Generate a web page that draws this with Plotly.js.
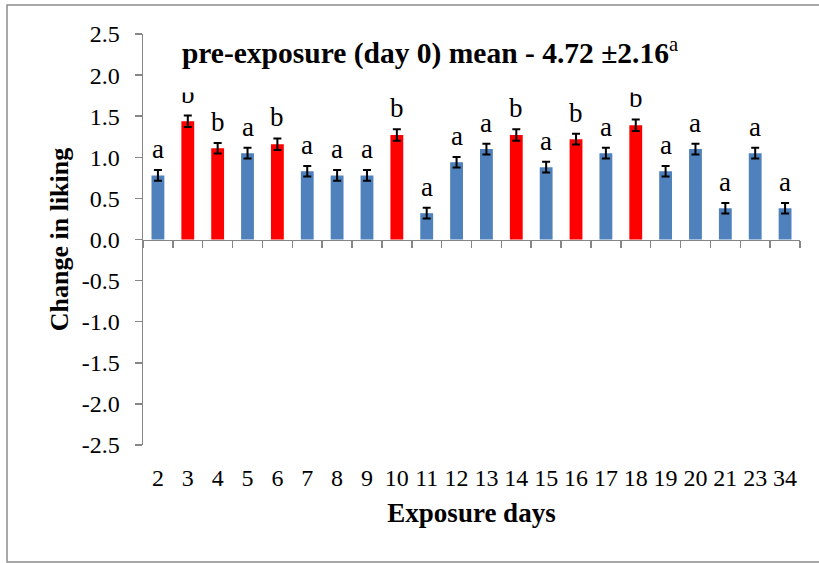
<!DOCTYPE html>
<html>
<head>
<meta charset="utf-8">
<script src="https://cdn.plot.ly/plotly-3.0.1.min.js"></script>
<style>
  html, body { margin: 0; padding: 0; background: #ffffff; }
  #chart { width: 819px; height: 563px; }
</style>
</head>
<body>
<div id="chart"></div>
<script>
// Exposure days (category labels on the x axis)
const days = ['2', '3', '4', '5', '6', '7', '8', '9', '10', '11', '12', '13', '14', '15', '16', '17', '18', '19', '20', '21', '23', '34'];

// Mean change in liking for each exposure day
const liking = [0.78, 1.44, 1.11, 1.05, 1.16, 0.83, 0.78, 0.78, 1.27, 0.32, 0.94, 1.10, 1.27, 0.88, 1.22, 1.05, 1.39, 0.83, 1.10, 0.38, 1.05, 0.38];

// Standard errors drawn as error bars
const stdErr = [0.065, 0.07, 0.065, 0.065, 0.07, 0.065, 0.065, 0.065, 0.07, 0.065, 0.065, 0.065, 0.07, 0.065, 0.065, 0.065, 0.07, 0.065, 0.065, 0.065, 0.065, 0.065];

// Significance group letters
const groups = ['a', 'b', 'b', 'a', 'b', 'a', 'a', 'a', 'b', 'a', 'a', 'a', 'b', 'a', 'b', 'a', 'b', 'a', 'a', 'a', 'a', 'a'];

// Y axis ticks
const yTickVals = [2.5, 2.0, 1.5, 1.0, 0.5, 0.0, -0.5, -1.0, -1.5, -2.0, -2.5];
const yTickText = ['2.5', '2.0', '1.5', '1.0', '0.5', '0.0', '-0.5', '-1.0', '-1.5', '-2.0', '-2.5'];

const groupColor = { a: '#4F81BD', b: '#FF0000' };
const serif = 'Liberation Serif';
const axisGray = '#868686';
const catRange = [-0.5, days.length - 0.5];

const bars = {
  type: 'bar',
  x: days,
  y: liking,
  marker: { color: groups.map(g => groupColor[g]), line: { width: 0 } },
  error_y: { type: 'data', array: stdErr, visible: true, color: '#000000', thickness: 2, width: 4 },
  hoverinfo: 'x+y',
  showlegend: false
};

// Invisible companion trace that carries the zero-line axis with boundary ticks
const zeroAxisCarrier = {
  type: 'scatter',
  mode: 'markers',
  x: days,
  y: liking,
  xaxis: 'x2',
  yaxis: 'y',
  marker: { opacity: 0 },
  hoverinfo: 'skip',
  showlegend: false
};

// Letters above each error bar (category axes take serial positions)
const letterNotes = days.map((d, i) => ({
  x: i,
  y: liking[i] + stdErr[i],
  xref: 'x',
  yref: 'y',
  text: groups[i],
  showarrow: false,
  yanchor: 'bottom',
  yshift: 4,
  font: { family: serif, size: 27, color: '#000000' }
}));

// Heading box sits on top of the letters
const heading = {
  xref: 'paper',
  yref: 'paper',
  x: 0.437,
  y: 1.012,
  xanchor: 'center',
  yanchor: 'top',
  width: 520,
  height: 56,
  valign: 'top',
  borderpad: 3,
  bgcolor: '#ffffff',
  showarrow: false,
  text: '<b>pre-exposure (day 0) mean - 4.72 ±2.16</b><sup>a</sup>',
  font: { family: serif, size: 29.5, color: '#000000' }
};

const layout = {
  width: 819,
  height: 563,
  margin: { l: 143, r: 19, t: 34, b: 118 },
  paper_bgcolor: '#ffffff',
  plot_bgcolor: '#ffffff',
  bargap: 0.57,
  showlegend: false,
  font: { family: serif, color: '#000000' },
  xaxis: {
    type: 'category',
    range: catRange,
    tickmode: 'array',
    tickvals: days,
    ticktext: days,
    showline: false,
    showgrid: false,
    zeroline: false,
    ticks: 'outside',
    ticklen: 11,
    tickcolor: 'rgba(0,0,0,0)',
    tickfont: { family: serif, size: 24, color: '#000000' },
    title: { text: '<b>Exposure days</b>', font: { family: serif, size: 27, color: '#000000' }, standoff: 13 },
    automargin: false,
    fixedrange: true
  },
  xaxis2: {
    type: 'category',
    overlaying: 'x',
    range: catRange,
    anchor: 'free',
    position: 0.5,
    showline: true,
    linecolor: axisGray,
    linewidth: 1.5,
    showgrid: false,
    zeroline: false,
    ticks: 'outside',
    tickson: 'boundaries',
    tickmode: 'array',
    tickvals: days,
    ticklen: 7,
    tickwidth: 1.5,
    tickcolor: axisGray,
    showticklabels: false,
    fixedrange: true
  },
  yaxis: {
    range: [-2.5, 2.5],
    tickmode: 'array',
    tickvals: yTickVals,
    ticktext: yTickText,
    showline: true,
    linecolor: axisGray,
    linewidth: 1.5,
    showgrid: false,
    zeroline: false,
    ticks: 'outside',
    ticklen: 7,
    tickwidth: 1.5,
    tickcolor: axisGray,
    ticklabelstandoff: 10,
    tickfont: { family: serif, size: 24, color: '#000000' },
    title: { text: '<b>Change in liking</b>', font: { family: serif, size: 26, color: '#000000' }, standoff: 5 },
    automargin: false,
    fixedrange: true
  },
  shapes: [
    {
      type: 'rect',
      xref: 'paper',
      yref: 'paper',
      x0: -0.207, x1: 1.035,
      y0: -0.2847, y1: 1.0706,
      line: { color: '#8c8c8c', width: 1.5 },
      fillcolor: 'rgba(0,0,0,0)',
      layer: 'below'
    }
  ],
  annotations: letterNotes.concat([heading])
};

Plotly.newPlot('chart', [bars, zeroAxisCarrier], layout, { displayModeBar: false, staticPlot: true });
</script>
</body>
</html>
